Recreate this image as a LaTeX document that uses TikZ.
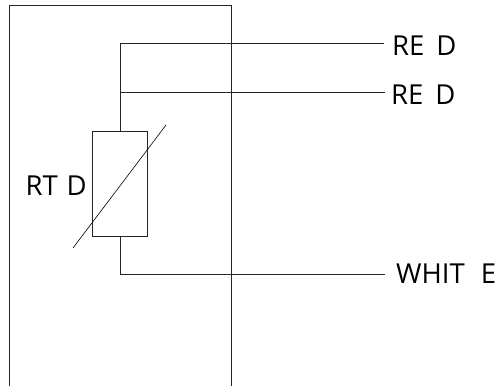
\documentclass[tikz,border=0pt]{standalone}
\usepackage{fontspec}
\setmainfont{Open Sans}
\usetikzlibrary{positioning}
\tikzset{
    wire/.style = {line width=0.8pt, black!85},
    wirelabel/.style = {font=\fontsize{27.5}{28}\selectfont, inner sep=0pt, anchor=west}
}

\begin{document}
\begin{tikzpicture}[x=1pt, y=-1pt]
    \useasboundingbox (0,0) rectangle (497,387);
    % housing, open at the bottom
    \coordinate (hl) at (9.5,386);
    \coordinate (hr) at (231.5,386);
    \draw[wire] (hl) |- (231.5,5) -- (hr);

    \node[draw, wire, minimum width=55pt, minimum height=105pt, inner sep=0pt] (rtd) at (120,183.5) {};
    \node[wirelabel, anchor=east] (rtdlabel) at (87,186) {RT\hspace{9pt}D};

    \node[wirelabel] (red1) at (392,46) {RE\hspace{12pt}D};
    \node[wirelabel] (red2) at (391,95) {RE\hspace{12pt}D};
    \node[wirelabel] (white) at (396,274) {WHIT\hspace{16pt}E};

    \coordinate (slashA) at (73,248);
    \coordinate (slashB) at (166,125);
    \draw[line width=0.6pt] (slashA) -- (slashB);

    \coordinate (wr1) at (384,43);
    \coordinate (wr2) at (385,92.5);
    \coordinate (ww) at (385,274);
    \draw[wire] (rtd.north) -- (120,43) -- (wr1);
    \draw[wire] (120,92.5) -- (wr2);
    \draw[wire] (rtd.south) |- (ww);
\end{tikzpicture}
\end{document}
